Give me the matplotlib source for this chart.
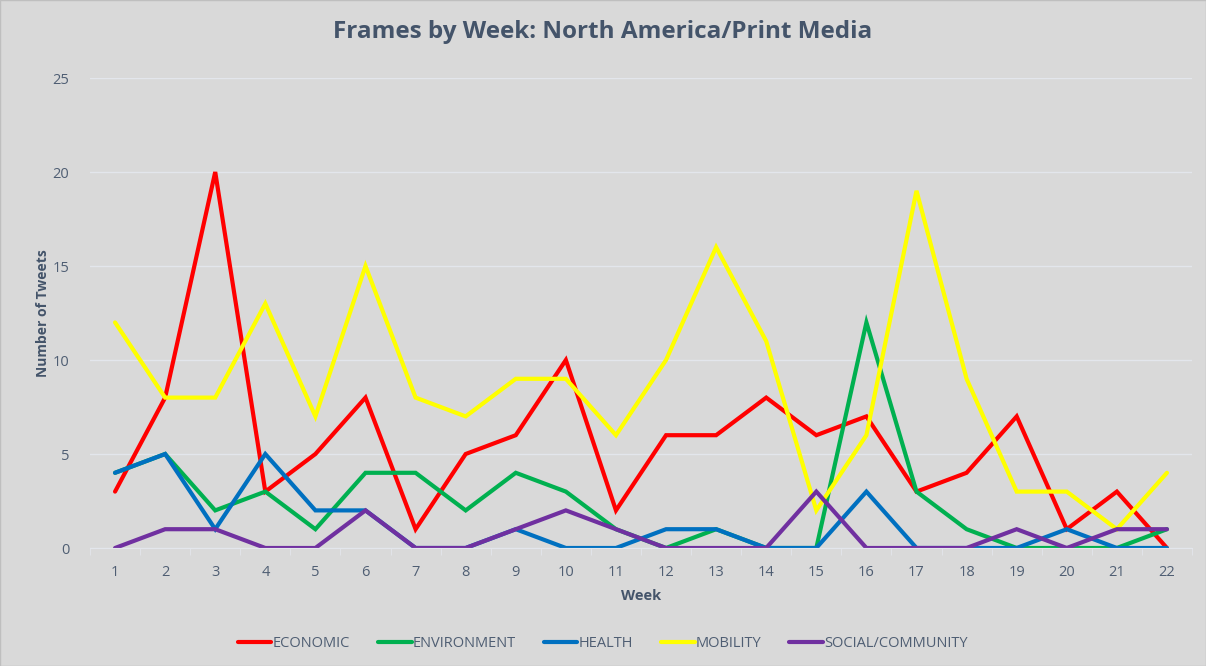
import numpy as np
import matplotlib.pyplot as plt

weeks = list(range(1, 23))
economic = [3, 8, 20, 3, 5, 8, 1, 5, 6, 10, 2, 6, 6, 8, 6, 7, 3, 4, 7, 1, 3, 0]
environment = [4, 5, 2, 3, 1, 4, 4, 2, 4, 3, 1, 0, 1, 0, 0, 12, 3, 1, 0, 0, 0, 1]
health = [4, 5, 1, 5, 2, 2, 0, 0, 1, 0, 0, 1, 1, 0, 0, 3, 0, 0, 0, 1, 0, 0]
mobility = [12, 8, 8, 13, 7, 15, 8, 7, 9, 9, 6, 10, 16, 11, 2, 6, 19, 9, 3, 3, 1, 4]
social = [0, 1, 1, 0, 0, 2, 0, 0, 1, 2, 1, 0, 0, 0, 3, 0, 0, 0, 1, 0, 1, 1]

series = [
    ('ECONOMIC', economic, '#ff0000'),
    ('ENVIRONMENT', environment, '#00b050'),
    ('HEALTH', health, '#0070c0'),
    ('MOBILITY', mobility, '#ffff00'),
    ('SOCIAL/COMMUNITY', social, '#7030a0'),
]

plt.rcParams['font.family'] = ['Open Sans', 'DejaVu Sans']
bg = '#d9d9d9'
txt = '#4f5e73'

fig = plt.figure(figsize=(12.06, 6.66), dpi=100, facecolor=bg)
ax = fig.add_axes([90 / 1206, 118 / 666, 1102 / 1206, 470 / 666])
ax.set_facecolor(bg)

for name, vals, col in series:
    ax.plot(weeks, vals, color=col, lw=3.0, label=name, solid_capstyle='round', solid_joinstyle='miter')

ax.set_xlim(0.5, 22.5)
ax.set_ylim(0, 25)
ax.set_yticks(range(0, 26, 5))
ax.set_xticks(weeks)
ax.set_xticks(np.arange(0.5, 23, 1), minor=True)
ax.grid(axis='y', color='#e3e6ec', lw=1)
ax.set_axisbelow(True)
for s in ['top', 'right', 'left']:
    ax.spines[s].set_visible(False)
ax.spines['bottom'].set_color('#e3e6ec')
ax.tick_params(axis='y', length=0, labelsize=10.5, labelcolor=txt, pad=15)
ax.tick_params(axis='x', which='major', length=0, labelsize=10.5, labelcolor=txt, pad=12)
ax.tick_params(axis='x', which='minor', length=5, color='#e3e6ec')

ax.set_xlabel('Week', fontsize=10.5, fontweight='bold', color='#44546a', labelpad=7)
ax.set_ylabel('Number of Tweets', fontsize=10, fontweight='bold', color='#44546a', labelpad=2)
fig.suptitle('Frames by Week: North America/Print Media', y=0.97, fontsize=17.5,
             fontweight='bold', color='#44546a')

leg = fig.legend(loc='center', bbox_to_anchor=(0.5, 0.034), ncol=5, frameon=False,
                 fontsize=10.5, handlelength=2.3, handletextpad=0.1, columnspacing=1.9)
for t in leg.get_texts():
    t.set_color(txt)

fig.patches.append(plt.Rectangle((0, 0), 1, 1, transform=fig.transFigure,
                                 fill=False, edgecolor='#bfbfbf', lw=1))
fig.savefig('out.png', dpi=100, facecolor=bg)
